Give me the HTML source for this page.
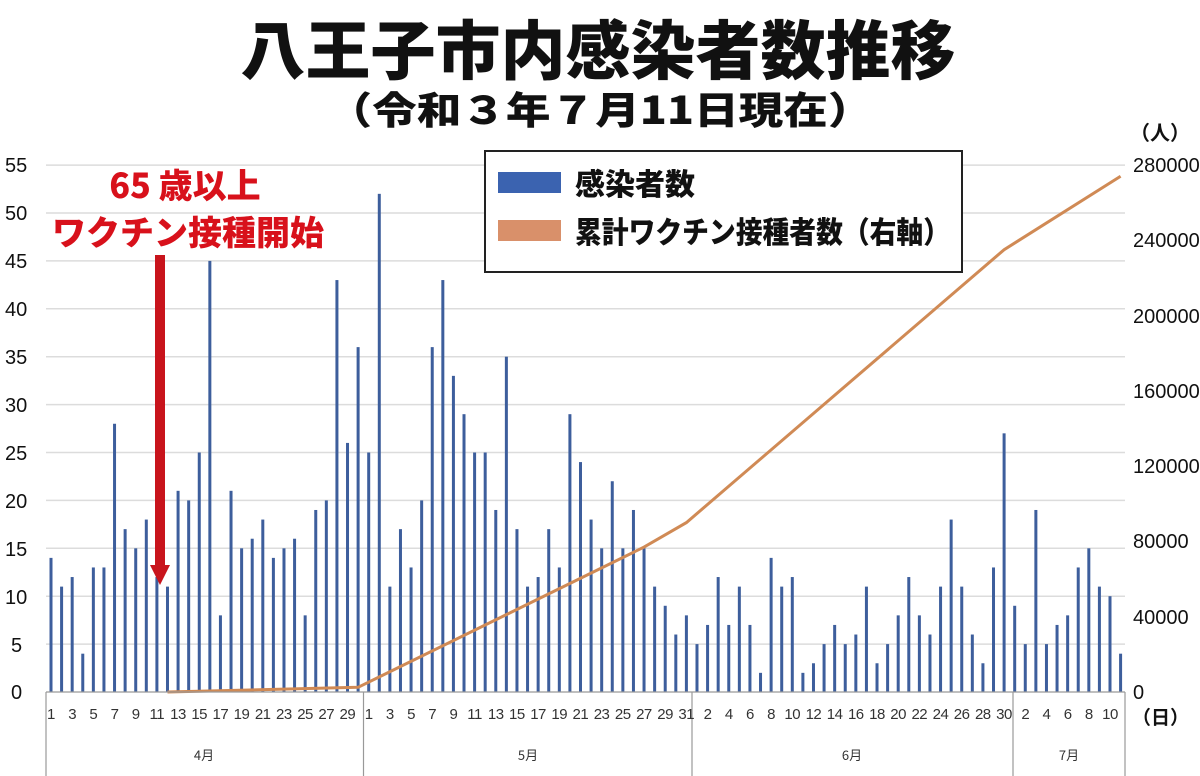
<!DOCTYPE html>
<html><head><meta charset="utf-8"><style>
body{margin:0;background:#fff;}
#c{position:relative;width:1200px;height:776px;overflow:hidden;background:#fff;font-family:"Liberation Sans","Noto Sans CJK JP",sans-serif;}
.row{position:absolute;top:706px;display:flex;font-size:15px;color:#333;letter-spacing:-0.5px;}
.row span{width:21.18px;text-align:center;display:block;}
.ab{position:absolute;font-family:"Liberation Sans","Noto Sans CJK JP",sans-serif;}
</style></head><body><div id="c">
<svg id="s" width="1200" height="776" style="position:absolute;left:0;top:0">
<text x="598" y="74" text-anchor="middle" font-size="64" font-weight="900" textLength="715" lengthAdjust="spacingAndGlyphs" fill="#111" font-family="Noto Sans CJK JP, sans-serif">八王子市内感染者数推移</text>
<text x="600" y="124" text-anchor="middle" font-size="38" font-weight="900" textLength="545" lengthAdjust="spacingAndGlyphs" fill="#111" font-family="Noto Sans CJK JP, sans-serif">（令和３年７月11日現在）</text>
<text x="1160" y="140" text-anchor="middle" font-size="20" font-weight="700" fill="#111" font-family="Noto Sans CJK JP, sans-serif">（人）</text>
<g id="grid"></g>
<g id="bars"></g>
<polyline id="line" fill="none" stroke="#d08a55" stroke-width="3"/>
<g stroke="#999" stroke-width="1.2">
<line x1="46" y1="692" x2="1125" y2="692"/>
<line x1="46" y1="692" x2="46" y2="776"/>
<line x1="363.5" y1="692" x2="363.5" y2="776"/>
<line x1="692" y1="692" x2="692" y2="776"/>
<line x1="1013" y1="692" x2="1013" y2="776"/>
<line x1="1125" y1="692" x2="1125" y2="776"/>
</g>
<g font-size="20" fill="#111" font-family="Liberation Sans, sans-serif">
<text x="5" y="172">55</text><text x="5" y="220">50</text><text x="5" y="268">45</text><text x="5" y="316">40</text><text x="5" y="364">35</text><text x="5" y="412">30</text><text x="5" y="460">25</text><text x="5" y="508">20</text><text x="5" y="556">15</text><text x="5" y="604">10</text><text x="11" y="652">5</text><text x="11" y="699">0</text>
<text x="1133" y="172">280000</text><text x="1133" y="247">240000</text><text x="1133" y="323">200000</text><text x="1133" y="398">160000</text><text x="1133" y="473">120000</text><text x="1133" y="548">80000</text><text x="1133" y="624">40000</text><text x="1133" y="699">0</text>
</g>
<text x="1132" y="724" font-size="19" font-weight="700" fill="#111" font-family="Noto Sans CJK JP, sans-serif">（日）</text>
<g font-size="13" fill="#333" text-anchor="middle" font-family="Noto Sans CJK JP, sans-serif">
<text x="204" y="760">4月</text><text x="528" y="760">5月</text><text x="852" y="760">6月</text><text x="1069" y="760">7月</text>
</g>
<rect x="485" y="151" width="477" height="121" fill="#fff" stroke="#222" stroke-width="2"/>
<rect x="498" y="172" width="63" height="21" fill="#3b63b0"/>
<rect x="498" y="220" width="63" height="21" fill="#d9906a"/>
<text x="575" y="195" font-size="30" font-weight="900" fill="#111" font-family="Noto Sans CJK JP, sans-serif">感染者数</text>
<text x="575" y="243" font-size="30" font-weight="900" fill="#111" textLength="375" lengthAdjust="spacingAndGlyphs" font-family="Noto Sans CJK JP, sans-serif">累計ワクチン接種者数（右軸）</text>
<text x="185" y="198" text-anchor="middle" font-size="34" font-weight="900" fill="#d8111b" font-family="Noto Sans CJK JP, sans-serif">65 歳以上</text>
<text x="188" y="245" text-anchor="middle" font-size="34" font-weight="900" fill="#d8111b" textLength="272" lengthAdjust="spacingAndGlyphs" font-family="Noto Sans CJK JP, sans-serif">ワクチン接種開始</text>
<rect x="155" y="255" width="10" height="315" fill="#c8141c"/>
<polygon points="150,565 170,565 160,585" fill="#c8141c"/>
</svg>
<div class="row" style="left:40.4px"><span>1</span><span>3</span><span>5</span><span>7</span><span>9</span><span>11</span><span>13</span><span>15</span><span>17</span><span>19</span><span>21</span><span>23</span><span>25</span><span>27</span><span>29</span></div>
<div class="row" style="left:358.1px"><span>1</span><span>3</span><span>5</span><span>7</span><span>9</span><span>11</span><span>13</span><span>15</span><span>17</span><span>19</span><span>21</span><span>23</span><span>25</span><span>27</span><span>29</span><span>31</span></div>
<div class="row" style="left:697px"><span>2</span><span>4</span><span>6</span><span>8</span><span>10</span><span>12</span><span>14</span><span>16</span><span>18</span><span>20</span><span>22</span><span>24</span><span>26</span><span>28</span><span>30</span></div>
<div class="row" style="left:1014.7px"><span>2</span><span>4</span><span>6</span><span>8</span><span>10</span></div>
</div>
<script>
var NS="http://www.w3.org/2000/svg";
var v=[14,11,12,4,13,13,28,17,15,18,12,11,21,20,25,45,8,21,15,16,18,14,15,16,8,19,20,43,26,36,
25,52,11,17,13,20,36,43,33,29,25,25,19,35,17,11,12,17,13,29,24,18,15,22,15,19,15,11,9,6,8,
5,7,12,7,11,7,2,14,11,12,2,3,5,7,5,6,11,3,5,8,12,8,6,11,18,11,6,3,13,27,
9,5,19,5,7,8,13,15,11,10,4];
function X(i){return 51+i*10.59;}
var g=document.getElementById('grid');
for(var k=1;k<=11;k++){var y=692-k*5*9.58;var l=document.createElementNS(NS,'line');
l.setAttribute('x1',46);l.setAttribute('x2',1125);l.setAttribute('y1',y);l.setAttribute('y2',y);
l.setAttribute('stroke','#dcdcdc');l.setAttribute('stroke-width','1.5');g.appendChild(l);}
var b=document.getElementById('bars');
v.forEach(function(d,i){var r=document.createElementNS(NS,'rect');
r.setAttribute('x',X(i)-1.5);r.setAttribute('width',3);r.setAttribute('y',692-d*9.58);r.setAttribute('height',d*9.58);
r.setAttribute('fill','#3d5e9c');b.appendChild(r);});
function Y(val){return 692-val/280000*527;}
var pts=[[11,0],[29,2500],[56,77000],[60,90000],[90,235000],[101,274000]];
document.getElementById('line').setAttribute('points',pts.map(function(p){return X(p[0])+','+Y(p[1]);}).join(' '));
</script>
</body></html>
